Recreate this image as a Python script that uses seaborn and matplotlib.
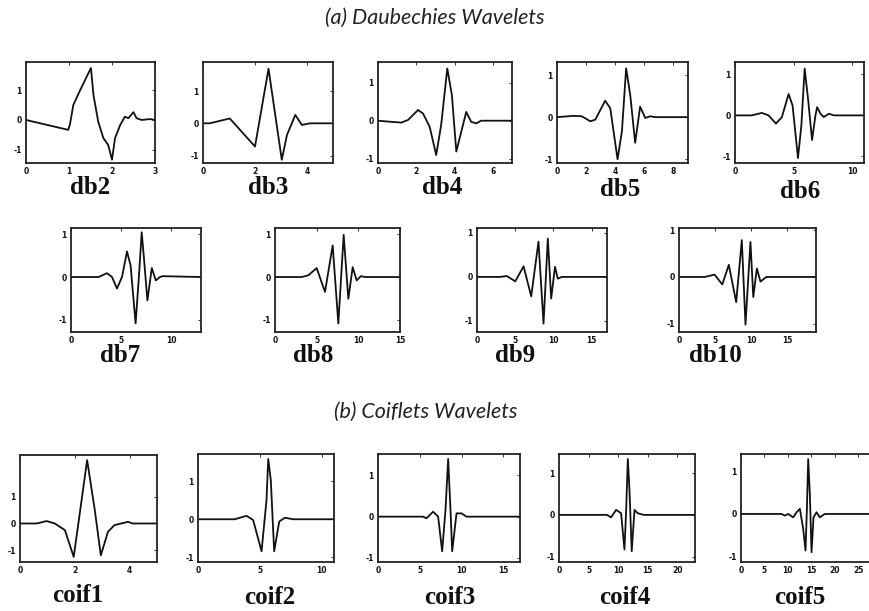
import matplotlib
matplotlib.use("Agg")
import matplotlib.pyplot as plt
import seaborn as sns
import pandas as pd

# ---- wavelet curves (psi), read as (x, y) vertices ----
db2_x = [0, 0.98, 1.02, 1.1, 1.26, 1.51, 1.57, 1.68, 1.8, 1.91, 2.0, 2.07, 2.19, 2.3, 2.38, 2.5, 2.57, 2.69, 2.88, 3.0]
db2_y = [0, -0.33, -0.17, 0.5, 1.0, 1.74, 0.83, -0.06, -0.61, -0.83, -1.33, -0.61, -0.17, 0.11, 0.06, 0.26, 0.06, 0.0, 0.03, 0.0]

db3_x = [0, 0.26, 1.03, 2.0, 2.52, 3.03, 3.23, 3.55, 3.8, 4.13, 5.0]
db3_y = [0, 0.0, 0.15, -0.72, 1.69, -1.13, -0.36, 0.26, -0.05, 0.0, 0.0]

db4_x = [0, 0.7, 1.22, 1.57, 2.09, 2.35, 2.7, 3.04, 3.3, 3.62, 3.86, 4.09, 4.35, 4.61, 4.87, 5.13, 5.39, 7.0]
db4_y = [0, -0.03, -0.05, 0.02, 0.28, 0.19, -0.16, -0.9, -0.11, 1.37, 0.67, -0.81, -0.29, 0.23, -0.03, -0.07, 0.0, 0.0]

db5_x = [0, 1.14, 1.71, 2.29, 2.63, 3.31, 3.66, 4.16, 4.46, 4.75, 5.03, 5.37, 5.71, 6.06, 6.4, 6.74, 9.0]
db5_y = [0, 0.03, 0.02, -0.1, -0.06, 0.39, 0.21, -1.0, -0.34, 1.16, 0.53, -0.61, 0.25, -0.02, 0.02, 0.0, 0.0]

db6_x = [0, 1.43, 2.29, 2.86, 3.49, 4.0, 4.57, 4.91, 5.37, 5.66, 5.94, 6.23, 6.57, 6.86, 7.0, 7.29, 7.57, 8.0, 8.43, 11.0]
db6_y = [0, 0.0, 0.06, 0.0, -0.2, -0.04, 0.52, 0.24, -1.04, -0.24, 1.14, 0.4, -0.6, 0.0, 0.2, 0.04, -0.04, 0.04, 0.0, 0.0]

db7_x = [0, 2.76, 3.6, 4.1, 4.6, 5.1, 5.6, 5.96, 6.46, 6.8, 7.07, 7.3, 7.64, 8.08, 8.48, 8.9, 9.16, 13.0]
db7_y = [0, 0.0, 0.09, 0.0, -0.27, 0.0, 0.6, 0.27, -1.09, 0.04, 1.05, 0.43, -0.55, 0.21, -0.08, 0.0, 0.02, 0.0]

db8_x = [0, 3.2, 4.0, 5.0, 6.0, 6.92, 7.6, 8.24, 8.8, 9.32, 9.8, 10.3, 10.8, 15.0]
db8_y = [0, 0.0, 0.04, 0.21, -0.35, 0.74, -1.09, 0.99, -0.51, 0.23, -0.08, 0.02, 0.0, 0.0]

db9_x = [0, 3.04, 3.9, 5.0, 6.09, 7.09, 8.04, 8.7, 9.26, 9.7, 10.2, 10.56, 11.1, 17.0]
db9_y = [0, 0.0, 0.02, -0.1, 0.24, -0.44, 0.8, -1.06, 0.87, -0.49, 0.23, -0.04, 0.0, 0.0]

db10_x = [0, 3.55, 4.93, 6.0, 6.91, 7.93, 8.71, 9.22, 9.91, 10.3, 10.8, 11.3, 12.1, 19.0]
db10_y = [0, 0.0, 0.05, -0.16, 0.26, -0.54, 0.79, -1.02, 0.75, -0.43, 0.18, -0.1, 0.0, 0.0]

coif1_x = [0, 0.61, 0.97, 1.27, 1.64, 1.96, 2.18, 2.45, 2.73, 2.95, 3.21, 3.45, 3.94, 4.12, 5.0]
coif1_y = [0, 0.0, 0.09, 0.0, -0.25, -1.25, 0.37, 2.37, 0.5, -1.19, -0.31, -0.06, 0.06, 0.0, 0.0]

coif2_x = [0, 2.97, 3.92, 4.46, 5.14, 5.54, 5.68, 5.89, 6.16, 6.57, 7.03, 7.7, 11.0]
coif2_y = [0, 0.0, 0.09, -0.02, -0.84, 0.5, 1.58, 1.02, -0.84, -0.06, 0.04, 0.0, 0.0]

coif3_x = [0, 5.4, 5.8, 6.6, 7.2, 7.68, 8.08, 8.4, 8.68, 8.88, 9.4, 10.0, 10.6, 17.0]
coif3_y = [0, 0.0, -0.04, 0.12, 0.0, -0.84, 0.16, 1.4, 0.16, -0.84, 0.08, 0.08, 0.0, 0.0]

coif4_x = [0, 8.1, 8.8, 9.66, 10.5, 11.07, 11.36, 11.64, 11.92, 12.3, 12.77, 13.3, 14.3, 23.0]
coif4_y = [0, 0.0, -0.06, 0.12, 0.04, -0.83, 0.12, 1.34, 0.59, -0.87, 0.12, 0.04, 0.0, 0.0]

coif5_x = [0, 8.65, 9.36, 10.07, 11.13, 11.84, 12.55, 13.26, 13.76, 14.04, 14.33, 14.68, 15.04, 15.46, 16.1, 16.8, 17.87, 29.0]
coif5_y = [0, 0.0, -0.04, 0.0, -0.08, 0.04, 0.12, -0.35, -0.86, 0.08, 1.29, 0.47, -0.9, -0.08, 0.04, -0.08, 0.0, 0.0]

names = ["db2", "db3", "db4", "db5", "db6", "db7", "db8", "db9", "db10",
         "coif1", "coif2", "coif3", "coif4", "coif5"]
curves = {
    "db2": (db2_x, db2_y), "db3": (db3_x, db3_y), "db4": (db4_x, db4_y),
    "db5": (db5_x, db5_y), "db6": (db6_x, db6_y), "db7": (db7_x, db7_y),
    "db8": (db8_x, db8_y), "db9": (db9_x, db9_y), "db10": (db10_x, db10_y),
    "coif1": (coif1_x, coif1_y), "coif2": (coif2_x, coif2_y),
    "coif3": (coif3_x, coif3_y), "coif4": (coif4_x, coif4_y),
    "coif5": (coif5_x, coif5_y),
}
x_ticks = {
    "db2": [0, 1, 2, 3], "db3": [0, 2, 4], "db4": [0, 2, 4, 6],
    "db5": [0, 2, 4, 6, 8], "db6": [0, 5, 10], "db7": [0, 5, 10],
    "db8": [0, 5, 10, 15], "db9": [0, 5, 10, 15], "db10": [0, 5, 10, 15],
    "coif1": [0, 2, 4], "coif2": [0, 5, 10], "coif3": [0, 5, 10, 15],
    "coif4": [0, 5, 10, 15, 20], "coif5": [0, 5, 10, 15, 20, 25],
}
y_ticks = [-1, 0, 1]

# ---- layout in pixels: (left, top, width, height), y limits, label centre ----
W, H = 869, 611
layout = {
    "db2":  ((26, 62, 129, 101), (-1.44, 1.94), (90, 188)),
    "db3":  ((203, 62, 130, 101), (-1.23, 1.90), (268, 188)),
    "db4":  ((378, 62, 134, 101), (-1.11, 1.54), (442, 188)),
    "db5":  ((557, 62, 131, 101), (-1.09, 1.31), (620, 190)),
    "db6":  ((735, 62, 129, 101), (-1.16, 1.30), (800, 192)),
    "db7":  ((71, 228, 130, 104), (-1.29, 1.15), (120, 355)),
    "db8":  ((275, 228, 125, 104), (-1.29, 1.15), (313, 356)),
    "db9":  ((477, 228, 130, 104), (-1.25, 1.11), (515, 356)),
    "db10": ((679, 228, 137, 104), (-1.18, 1.05), (715, 355)),
    "coif1": ((20, 455, 137, 107), (-1.44, 2.56), (78, 596)),
    "coif2": ((198, 454, 136, 108), (-1.12, 1.71), (270, 597)),
    "coif3": ((378, 454, 142, 108), (-1.10, 1.52), (450, 597)),
    "coif4": ((559, 454, 136, 108), (-1.13, 1.46), (625, 597)),
    "coif5": ((741, 454, 136, 108), (-1.13, 1.41), (800, 597)),
}

sns.set_style("white")
plt.rcParams["axes.unicode_minus"] = False

fig = plt.figure(figsize=(W / 100, H / 100), dpi=100)

for name in names:
    (l, t, w, h), ylim, (lx, ly) = layout[name]
    ax = fig.add_axes([l / W, 1 - (t + h) / H, w / W, h / H])
    xs, ys = curves[name]
    df = pd.DataFrame({"t": xs, "psi": ys})
    sns.lineplot(data=df, x="t", y="psi", ax=ax, color="#111111",
                 linewidth=1.3, sort=False, estimator=None)
    ax.set_xlim(0, xs[-1])
    ax.set_ylim(*ylim)
    ax.set_xticks(x_ticks[name])
    ax.set_yticks(y_ticks)
    ax.set_xlabel("")
    ax.set_ylabel("")
    ax.tick_params(direction="in", length=2.5, width=0.6, top=True, right=True,
                   labelsize=5.5, pad=3, colors="#111111")
    for lab in ax.get_xticklabels() + ax.get_yticklabels():
        lab.set_fontweight("bold")
    for sp in ax.spines.values():
        sp.set_linewidth(1.3)
        sp.set_color("#222222")
    fig.text(lx / W, 1 - ly / H, name, ha="center", va="center",
             family="Liberation Serif", fontweight="bold", fontsize=18,
             color="#111111")

fig.text(435 / W, 1 - 18 / H, "(a) Daubechies Wavelets", ha="center",
         va="center", family="Lato", style="italic", fontsize=15.5,
         color="#222222")
fig.text(426 / W, 1 - 412 / H, "(b) Coiflets Wavelets", ha="center",
         va="center", family="Lato", style="italic", fontsize=15.5,
         color="#222222")

fig.savefig("out.png", dpi=100)
